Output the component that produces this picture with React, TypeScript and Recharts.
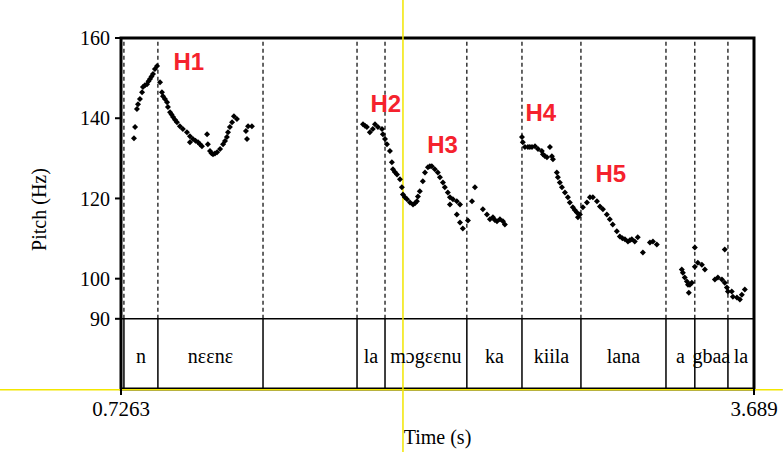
import React from 'react';
import { ScatterChart, Scatter, XAxis, YAxis, ReferenceLine, ReferenceArea, ReferenceDot } from 'recharts';

// pitch track, [time (s), pitch (Hz)]
const phrase1: [number, number][] = [
  [0.787, 135], [0.792, 137.8], [0.801, 142.3], [0.806, 143.5], [0.815, 144.8], [0.825, 146.5],
  [0.829, 147.8], [0.838, 148.2], [0.848, 148.5], [0.855, 149.2], [0.862, 149.8], [0.869, 150.4],
  [0.876, 151], [0.885, 152.3], [0.895, 153], [0.909, 149], [0.918, 146.5], [0.923, 145.5],
  [0.932, 144.8], [0.942, 144], [0.946, 142.8], [0.956, 141.5], [0.963, 140.9], [0.970, 140.3],
  [0.979, 139.6], [0.988, 139], [1.002, 138], [1.016, 137.3], [1.035, 136.5], [1.049, 135.5],
  [1.049, 134], [1.063, 134.8], [1.075, 134.4], [1.087, 134], [1.096, 133.5], [1.105, 133],
  [1.129, 136], [1.133, 133.5], [1.143, 131.8], [1.150, 131.3], [1.157, 131], [1.166, 131.2],
  [1.176, 131.5], [1.190, 132.3], [1.204, 133.5], [1.213, 134.3], [1.222, 135.3], [1.227, 136.5],
  [1.236, 137.8], [1.246, 139], [1.255, 140.5], [1.269, 139.8], [1.311, 136.8], [1.316, 134.8],
  [1.321, 138], [1.339, 138],
];

const phrase2: [number, number][] = [
  [1.859, 138.5], [1.868, 138.1], [1.877, 137.8], [1.891, 136.5], [1.905, 137.3], [1.915, 138.5],
  [1.929, 137.8], [1.948, 137.3], [1.952, 136], [1.962, 134.8], [1.971, 133.5], [1.985, 131.8],
  [1.994, 129], [1.999, 127.3], [2.008, 126.6], [2.018, 126], [2.032, 124.8], [2.041, 122.8],
  [2.046, 121], [2.055, 120.3], [2.065, 119.8], [2.079, 119], [2.093, 118.5], [2.102, 118.8],
  [2.111, 119.3], [2.116, 120.5], [2.125, 121.8], [2.139, 124.3], [2.149, 126.5], [2.163, 127.8],
  [2.172, 128], [2.181, 128], [2.195, 127.3], [2.209, 126.5], [2.219, 125.3], [2.233, 124],
  [2.242, 122.8], [2.256, 121.5], [2.266, 120.3], [2.280, 119.8], [2.266, 118.5], [2.298, 119.3],
  [2.298, 116], [2.313, 118.5], [2.313, 114], [2.326, 112.5], [2.350, 114.5], [2.369, 119.3],
  [2.383, 122.8], [2.420, 117.3], [2.439, 116], [2.453, 114.8], [2.467, 115.3], [2.476, 114.6],
  [2.486, 114.3], [2.500, 114.8], [2.514, 114.3], [2.523, 113.5],
];

const phrase3: [number, number][] = [
  [2.603, 135.3], [2.607, 134], [2.617, 132.8], [2.631, 132.8], [2.640, 132.8], [2.650, 132.8],
  [2.664, 133], [2.678, 132.3], [2.696, 131.8], [2.701, 131], [2.710, 130.6], [2.720, 130.3],
  [2.734, 132.8], [2.743, 130.5], [2.748, 129.8], [2.766, 126.5], [2.771, 125.3], [2.780, 124],
  [2.790, 122.8], [2.804, 121.5], [2.818, 120.3], [2.827, 119], [2.841, 117.8], [2.850, 117.1],
  [2.860, 116.5], [2.865, 115.3], [2.874, 116], [2.888, 117.8], [2.907, 119], [2.921, 120.3],
  [2.935, 120.3], [2.954, 119.3], [2.968, 118], [2.982, 117.3], [3.000, 116], [3.014, 114.8],
  [3.028, 113.5], [3.047, 111.8], [3.061, 110.5], [3.073, 110.1], [3.085, 109.8], [3.099, 109.3],
  [3.108, 109.6], [3.117, 109.8], [3.131, 109.3], [3.145, 110.3], [3.169, 106.5], [3.202, 109],
  [3.216, 109.3], [3.234, 108.5],
];

const phrase4: [number, number][] = [
  [3.351, 102.3], [3.356, 101.5], [3.365, 100.3], [3.375, 99.3], [3.380, 98.5], [3.389, 98.5],
  [3.384, 96.5], [3.398, 99], [3.412, 107.8], [3.412, 103], [3.426, 104], [3.445, 103.5],
  [3.459, 102.3], [3.506, 99.8], [3.520, 100.3], [3.539, 99.8], [3.552, 99], [3.552, 107.3],
  [3.562, 97.8], [3.567, 96.8], [3.585, 96.8], [3.590, 95.5], [3.609, 95.3], [3.623, 94.8],
  [3.632, 96], [3.646, 97.3],
];

// text grid
const tStart = 0.7263;
const tEnd = 3.689;
const boundaries = [0.740, 0.899, 1.391, 1.831, 1.962, 2.345, 2.603, 2.879, 3.277, 3.412, 3.567];
const syllables = ['', 'n', 'nɛɛnɛ', '', 'la', 'mɔgɛɛnu', 'ka', 'kiila', 'lana', 'a', 'gbaa', 'la'];

const yTicks = [90, 100, 120, 140, 160];
const xTicks = [tStart, tEnd];

// high tone markers: [label, time, Hz]
const highTones: [string, number, number][] = [
  ['H1', 1.044, 154.2],
  ['H2', 1.966, 143.6],
  ['H3', 2.231, 133.4],
  ['H4', 2.691, 141.4],
  ['H5', 3.019, 126.2],
];

const serif = '"Liberation Serif", "Times New Roman", serif';
const pitchTop = 160;
const pitchBottom = 90;
const tierBottom = 72.5;

const pitchPoints = [...phrase1, ...phrase2, ...phrase3, ...phrase4].map(([t, hz]) => ({ t, hz }));
const edges = [tStart, ...boundaries, tEnd];

const Diamond = (props: any) => {
  const { cx, cy } = props;
  const s = 3;
  return <path d={`M${cx},${cy - s}L${cx + s},${cy}L${cx},${cy + s}L${cx - s},${cy}Z`} fill="#000" />;
};

export default function App() {
  return (
    <div style={{ position: 'absolute', left: 0, top: 0, width: 783, height: 452, background: '#fff' }}>
      <ScatterChart width={783} height={452} margin={{ top: 38, right: 29, left: 0, bottom: 0 }}>
        <XAxis
          type="number"
          dataKey="t"
          domain={[tStart, tEnd]}
          ticks={xTicks}
          interval={0}
          allowDataOverflow
          axisLine={false}
          tickLine={{ stroke: '#000', strokeWidth: 2 }}
          tickSize={6}
          tickMargin={6}
          height={63}
          tick={{ fontSize: 21, fill: '#000', fontFamily: serif }}
          tickFormatter={(v: number) => String(v)}
          label={{ value: 'Time (s)', position: 'insideBottom', offset: 8, fontSize: 20, fill: '#000', fontFamily: serif }}
        />
        <YAxis
          type="number"
          dataKey="hz"
          domain={[tierBottom, pitchTop]}
          ticks={yTicks}
          interval={0}
          allowDataOverflow
          axisLine={false}
          tickLine={{ stroke: '#000', strokeWidth: 2 }}
          tickSize={6}
          tickMargin={5}
          width={121}
          tick={{ fontSize: 20, fill: '#000', fontFamily: serif }}
          label={(p: any) => {
            const vb = p.viewBox;
            const cx = vb.x + 39;
            const cy = vb.y + vb.height / 2 - 4;
            return (
              <text x={cx} y={cy} transform={`rotate(-90, ${cx}, ${cy})`} textAnchor="middle" dominantBaseline="central"
                fontSize={20} fontFamily={serif} fill="#000">
                Pitch (Hz)
              </text>
            );
          }}
        />

        {/* yellow crosshair under the frame */}
        <ReferenceLine
          segment={[{ x: 0.16, y: tierBottom - 0.2 }, { x: 3.824, y: tierBottom - 0.2 }]}
          stroke="#f2e600"
          strokeWidth={1.5}
          ifOverflow="visible"
        />

        {boundaries.map((b) => (
          <ReferenceLine
            key={`d${b}`}
            segment={[{ x: b, y: pitchBottom }, { x: b, y: pitchTop }]}
            stroke="#000"
            strokeWidth={1.2}
            strokeDasharray="4 3"
          />
        ))}
        {boundaries.map((b) => (
          <ReferenceLine
            key={`s${b}`}
            segment={[{ x: b, y: tierBottom }, { x: b, y: pitchBottom }]}
            stroke="#000"
            strokeWidth={1.5}
          />
        ))}
        <ReferenceLine y={pitchBottom} stroke="#000" strokeWidth={1.5} />

        {syllables.map((s, i) =>
          s ? (
            <ReferenceDot
              key={`l${i}`}
              x={(edges[i] + edges[i + 1]) / 2}
              y={80.7}
              r={0}
              fill="none"
              stroke="none"
              label={{ value: s, position: 'center', fontSize: 20, fill: '#000', fontFamily: serif }}
            />
          ) : null
        )}

        <ReferenceArea
          x1={tStart}
          x2={tEnd}
          y1={tierBottom}
          y2={pitchTop}
          fill="none"
          stroke="#000"
          strokeWidth={3}
          ifOverflow="visible"
        />

        <Scatter data={pitchPoints} shape={Diamond} isAnimationActive={false} />

        {highTones.map(([name, t, hz]) => (
          <ReferenceDot
            key={name}
            x={t}
            y={hz}
            r={0}
            fill="none"
            stroke="none"
            label={{
              value: name,
              position: 'center',
              fontSize: 24,
              fontWeight: 'bold',
              fill: '#f5222d',
              fontFamily: '"Liberation Sans", Arial, sans-serif',
            }}
          />
        ))}

        {/* yellow crosshair vertical */}
        <ReferenceLine
          segment={[{ x: 2.046, y: 56.8 }, { x: 2.046, y: 169.5 }]}
          stroke="#f2e600"
          strokeWidth={1.5}
          ifOverflow="visible"
        />
      </ScatterChart>
    </div>
  );
}
